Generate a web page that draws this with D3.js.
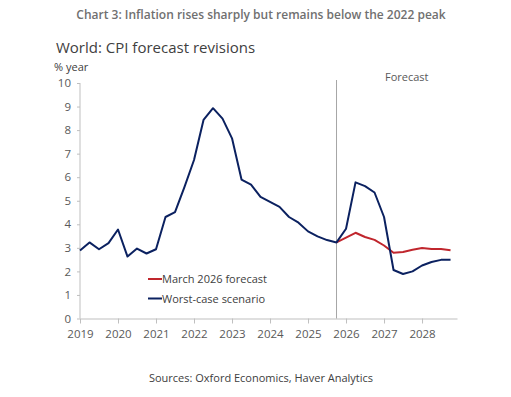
<!DOCTYPE html>
<html>
<head>
<meta charset="utf-8">
<script src="https://cdn.jsdelivr.net/npm/d3@7"></script>
<style>
  body { margin: 0; background: #fff; }
  svg text { font-family: "Open Sans", "Noto Sans", sans-serif; }
  .axis path, .axis line { stroke: #bfbfbf; }
  .axis text { fill: #595959; font-size: 11.5px; }
</style>
</head>
<body>
<div id="chart"></div>
<script>
// quarterly data, 2019Q1 .. 2028Q4
const quarters = d3.range(40).map(i => 2019 + i / 4);
const years = [2019, 2020, 2021, 2022, 2023, 2024, 2025, 2026, 2027, 2028];
const yTicks = [0, 1, 2, 3, 4, 5, 6, 7, 8, 9, 10];

// history through 2025Q4, then worst-case scenario
const worstCase = [
  2.89, 3.23, 2.94, 3.20, 3.78, 2.63, 2.97, 2.76,
  2.94, 4.31, 4.52, 5.59, 6.73, 8.43, 8.93, 8.49,
  7.65, 5.90, 5.68, 5.16, 4.95, 4.74, 4.31, 4.07,
  3.70, 3.49, 3.33, 3.23,
  3.81, 5.78, 5.62, 5.35, 4.31, 2.06, 1.89, 2.00,
  2.25, 2.40, 2.49, 2.49
];
// March 2026 forecast, starts at 2025Q4
const marchForecast = [
  3.23, 3.43, 3.64, 3.46, 3.34, 3.10, 2.79, 2.82,
  2.92, 2.99, 2.95, 2.95, 2.90
];
const forecastStart = 2025.75;

const W = 511, H = 397;
const margin = {left: 80, right: 54, top: 83, bottom: 79};

const svg = d3.select('#chart').append('svg')
  .attr('width', W)
  .attr('height', H);

const x = d3.scaleLinear()
  .domain([2019, 2028.92])
  .range([margin.left, W - margin.right]);

const y = d3.scaleLinear()
  .domain([0, 10])
  .range([H - margin.bottom + 0.5, margin.top]);

// titles
svg.append('text')
  .attr('x', 261).attr('y', 19)
  .attr('text-anchor', 'middle')
  .style('font-size', '12px')
  .style('font-weight', 600)
  .style('fill', '#707070')
  .text('Chart 3: Inflation rises sharply but remains below the 2022 peak');

svg.append('text')
  .attr('x', 56).attr('y', 53)
  .style('font-size', '15px')
  .style('fill', '#404040')
  .text('World: CPI forecast revisions');

svg.append('text')
  .attr('x', 54).attr('y', 71)
  .style('font-size', '11px')
  .style('fill', '#404040')
  .text('% year');

// axes
const yAxis = d3.axisLeft(y)
  .tickValues(yTicks)
  .tickSize(3)
  .tickPadding(6);

svg.append('g')
  .attr('class', 'axis')
  .attr('transform', `translate(${margin.left},0)`)
  .call(yAxis)
  .call(g => g.select('.domain').attr('d', `M0,${y(10)}V${y(0)}`));

const xAxis = d3.axisBottom(x)
  .tickValues(years)
  .tickFormat(d3.format('d'))
  .tickSize(5)
  .tickSizeOuter(0)
  .tickPadding(6);

svg.append('g')
  .attr('class', 'axis')
  .attr('transform', `translate(0,${y(0)})`)
  .call(xAxis);

// forecast divider
svg.append('line')
  .attr('x1', x(forecastStart)).attr('x2', x(forecastStart))
  .attr('y1', 80).attr('y2', y(0))
  .attr('stroke', '#a6a6a6')
  .attr('stroke-width', 1);

svg.append('text')
  .attr('x', 385).attr('y', 81)
  .style('font-size', '11px')
  .style('fill', '#595959')
  .text('Forecast');

// lines
const line = d3.line()
  .x(d => x(d[0]))
  .y(d => y(d[1]));

const navy = '#0b2160', red = '#c0262d';

const redData = marchForecast.map((v, i) => [forecastStart + i / 4, v]);
const navyData = worstCase.map((v, i) => [quarters[i], v]);

svg.append('path')
  .datum(redData)
  .attr('fill', 'none')
  .attr('stroke', red)
  .attr('stroke-width', 2)
  .attr('stroke-linejoin', 'round')
  .attr('d', line);

svg.append('path')
  .datum(navyData)
  .attr('fill', 'none')
  .attr('stroke', navy)
  .attr('stroke-width', 2)
  .attr('stroke-linejoin', 'round')
  .attr('d', line);

// legend
const legend = [
  {name: 'March 2026 forecast', color: red},
  {name: 'Worst-case scenario', color: navy}
];

const lg = svg.selectAll('.legend')
  .data(legend)
  .enter().append('g')
  .attr('class', 'legend')
  .attr('transform', (d, i) => `translate(148,${279 + i * 19.5})`);

lg.append('line')
  .attr('x1', 0).attr('x2', 14)
  .attr('stroke', d => d.color)
  .attr('stroke-width', 2);

lg.append('text')
  .attr('x', 14).attr('y', 4)
  .style('font-size', '11px')
  .style('fill', '#404040')
  .text(d => d.name);

// source
svg.append('text')
  .attr('x', 261).attr('y', 382)
  .attr('text-anchor', 'middle')
  .style('font-size', '11px')
  .style('fill', '#404040')
  .text('Sources: Oxford Economics, Haver Analytics');
</script>
</body>
</html>
